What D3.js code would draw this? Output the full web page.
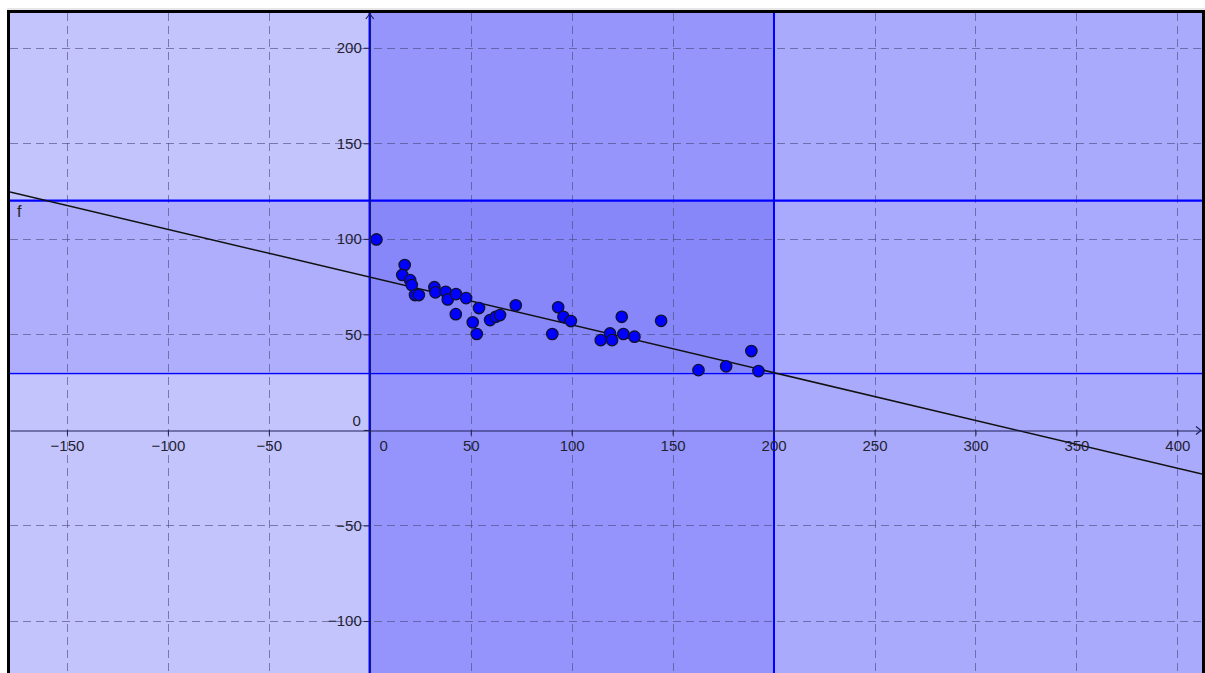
<!DOCTYPE html>
<html>
<head>
<meta charset="utf-8">
<script src="https://cdn.jsdelivr.net/npm/d3@7"></script>
<style>
  html, body { margin: 0; padding: 0; background: #ffffff; }
  svg { display: block; }
  text { font-family: "Liberation Sans", Arial, sans-serif; }
</style>
</head>
<body>
<svg id="chart" width="1205" height="673"></svg>
<script>
// Observations: (x, y) pairs
const pointsX = [3.3, 17.3, 16.1, 20.0, 20.8, 22.4, 24.3, 32.0, 32.5, 37.6, 38.6, 42.7,
                 42.6, 47.7, 51.0, 53.0, 54.1, 59.6, 62.4, 64.5, 72.3, 90.4, 93.3, 95.9,
                 99.6, 114.4, 119.0, 120.0, 124.8, 125.6, 131.1, 144.3, 162.8, 176.5, 189.0, 192.5];
const pointsY = [99.7, 86.3, 81.1, 78.4, 75.8, 70.6, 70.6, 74.7, 72.0, 72.3, 68.3, 71.1,
                 60.6, 69.0, 56.3, 50.2, 63.8, 57.5, 59.2, 60.1, 65.2, 50.2, 64.2, 59.2,
                 57.0, 47.0, 50.5, 47.0, 59.2, 50.2, 48.8, 57.1, 31.3, 33.3, 41.3, 30.8];

// Fitted line f(x) = intercept + slope * x
const lineIntercept = 80;
const lineSlope = -0.25;
const lineName = "f";

// Shaded bounds: 0 <= x <= 200 and 30 <= y <= 120
const xBounds = [0, 200];
const yBounds = [30, 120];

// Tick values
const xTicks = [-150, -100, -50, 0, 50, 100, 150, 200, 250, 300, 350, 400];
const yTicks = [-100, -50, 0, 50, 100, 150, 200];

// Visible window
const xDomain = [-178.2, 412.2];
const yDomain = [218.2, -127.2];

const svg = d3.select("#chart");
const pLeft = 10, pRight = 1202, pTop = 13, pBottom = 673;

const x = d3.scaleLinear().domain(xDomain).range([pLeft, pRight]);
const y = d3.scaleLinear().domain(yDomain).range([pTop, pBottom]);

svg.append("defs").append("clipPath").attr("id", "plotClip")
  .append("rect").attr("x", pLeft).attr("y", pTop)
  .attr("width", pRight - pLeft).attr("height", pBottom - pTop);

const plot = svg.append("g").attr("clip-path", "url(#plotClip)");

// Region fills: columns split by xBounds, rows split by yBounds
const xEdges = [xDomain[0], xBounds[0], xBounds[1], xDomain[1]];
const yEdges = [yDomain[1], yBounds[0], yBounds[1], yDomain[0]];
// fill[column][row], rows from bottom to top
const fills = [
  ["#c4c4fd", "#aeaefc", "#c4c4fd"],
  ["#9494fc", "#8787fa", "#9595fc"],
  ["#aaaafd", "#a9a9fd", "#aaaafd"]
];
const cells = [];
for (let i = 0; i < 3; i++) {
  for (let j = 0; j < 3; j++) {
    cells.push({ x0: xEdges[i], x1: xEdges[i + 1], y0: yEdges[j], y1: yEdges[j + 1], fill: fills[i][j] });
  }
}
plot.selectAll("rect.cell").data(cells).join("rect")
  .attr("class", "cell")
  .attr("x", d => x(d.x0))
  .attr("y", d => y(d.y1))
  .attr("width", d => x(d.x1) - x(d.x0))
  .attr("height", d => y(d.y0) - y(d.y1))
  .attr("fill", d => d.fill);

// Dashed grid
const gridX = d3.range(-150, 450, 50).filter(v => v !== 0);
const gridY = d3.range(-100, 250, 50).filter(v => v !== 0);
const grid = plot.append("g")
  .attr("stroke", "#46467a").attr("stroke-opacity", 0.6)
  .attr("stroke-width", 1).attr("stroke-dasharray", "8,5");
grid.selectAll("line.gx").data(gridX).join("line").attr("class", "gx")
  .attr("x1", d => Math.round(x(d)) + 0.5).attr("x2", d => Math.round(x(d)) + 0.5)
  .attr("y1", pTop).attr("y2", pBottom);
grid.selectAll("line.gy").data(gridY).join("line").attr("class", "gy")
  .attr("y1", d => Math.round(y(d)) + 0.5).attr("y2", d => Math.round(y(d)) + 0.5)
  .attr("x1", pLeft).attr("x2", pRight);

// Axes
const fmt = d3.format("");
const labelColor = "#222233";
const xAxis = d3.axisBottom(x).tickValues(xTicks).tickSize(5).tickSizeOuter(0).tickPadding(5)
  .tickFormat(d => d === 0 ? "" : fmt(d));
const gx = svg.append("g").attr("transform", `translate(0,${Math.round(y(0)) + 0.5})`).call(xAxis);
gx.select(".domain").attr("stroke", "#1e1e5a").attr("stroke-width", 1.2);
gx.selectAll(".tick line").attr("stroke", "#222244");
gx.selectAll(".tick text").attr("fill", labelColor).attr("font-size", 15)
  .attr("font-family", "Liberation Sans, Arial, sans-serif");

const yAxis = d3.axisLeft(y).tickValues(yTicks).tickSize(6).tickSizeOuter(0).tickPadding(2)
  .tickFormat(d => d === 0 ? "" : fmt(d));
const gy = svg.append("g").attr("transform", `translate(${x(0)},0)`).call(yAxis);
gy.select(".domain").attr("stroke", "#1e1e5a");
gy.selectAll(".tick line").attr("stroke", "#222244");
gy.selectAll(".tick text").attr("fill", labelColor).attr("font-size", 15)
  .attr("font-family", "Liberation Sans, Arial, sans-serif");

// Origin labels
svg.append("text").attr("x", x(0) + 14).attr("y", y(0) + 21)
  .attr("text-anchor", "middle").attr("font-size", 15).attr("fill", labelColor).text(fmt(0));
svg.append("text").attr("x", x(0) - 9).attr("y", y(0) - 4)
  .attr("text-anchor", "end").attr("font-size", 15).attr("fill", labelColor).text(fmt(0));

// Axis arrowheads
const ax0 = x(0), ay0 = Math.round(y(0)) + 0.5;
svg.append("path")
  .attr("d", `M${ax0 - 4},${pTop + 6} L${ax0},${pTop + 1} L${ax0 + 4},${pTop + 6}`)
  .attr("fill", "none").attr("stroke", "#1e1e5a").attr("stroke-width", 1.2);
svg.append("path")
  .attr("d", `M${pRight - 6},${ay0 - 4} L${pRight - 1},${ay0} L${pRight - 6},${ay0 + 4}`)
  .attr("fill", "none").attr("stroke", "#1e1e5a").attr("stroke-width", 1.2);

// Boundary lines of the shaded region
const bounds = plot.append("g").attr("stroke", "#0000ff");
bounds.append("line").attr("x1", x(xBounds[0])).attr("x2", x(xBounds[0]))
  .attr("y1", pTop).attr("y2", pBottom).attr("stroke-width", 2.5);
bounds.append("line").attr("x1", Math.round(x(xBounds[1]))).attr("x2", Math.round(x(xBounds[1])))
  .attr("y1", pTop).attr("y2", pBottom).attr("stroke-width", 2);
bounds.append("line").attr("y1", y(yBounds[1])).attr("y2", y(yBounds[1]))
  .attr("x1", pLeft).attr("x2", pRight).attr("stroke-width", 2.2);
bounds.append("line").attr("y1", Math.round(y(yBounds[0])) + 0.5).attr("y2", Math.round(y(yBounds[0])) + 0.5)
  .attr("x1", pLeft).attr("x2", pRight).attr("stroke-width", 1.5);

// Fitted line
const f = v => lineIntercept + lineSlope * v;
plot.append("path")
  .datum(xDomain)
  .attr("d", d3.line().x(d => x(d)).y(d => y(f(d))))
  .attr("fill", "none").attr("stroke", "#111111").attr("stroke-width", 1.5);
svg.append("text").attr("x", 17).attr("y", 217).attr("font-size", 16)
  .attr("fill", "#222").text(lineName);

// Points
const pts = pointsX.map((vx, i) => ({ x: vx, y: pointsY[i] }));
plot.selectAll("circle.pt").data(pts).join("circle")
  .attr("class", "pt")
  .attr("cx", d => x(d.x)).attr("cy", d => y(d.y)).attr("r", 5.7)
  .attr("fill", "#0000ff").attr("stroke", "#111133").attr("stroke-width", 1.3);

// Frame
svg.append("line").attr("x1", 7).attr("x2", 1205).attr("y1", 9).attr("y2", 9)
  .attr("stroke", "#cfcfcf").attr("stroke-width", 1);
svg.append("path")
  .attr("d", `M${pLeft - 1.5},${pBottom + 5} L${pLeft - 1.5},${pTop - 1.5} L${pRight + 1.5},${pTop - 1.5} L${pRight + 1.5},${pBottom + 5}`)
  .attr("fill", "none").attr("stroke", "#000").attr("stroke-width", 3);
</script>
</body>
</html>
